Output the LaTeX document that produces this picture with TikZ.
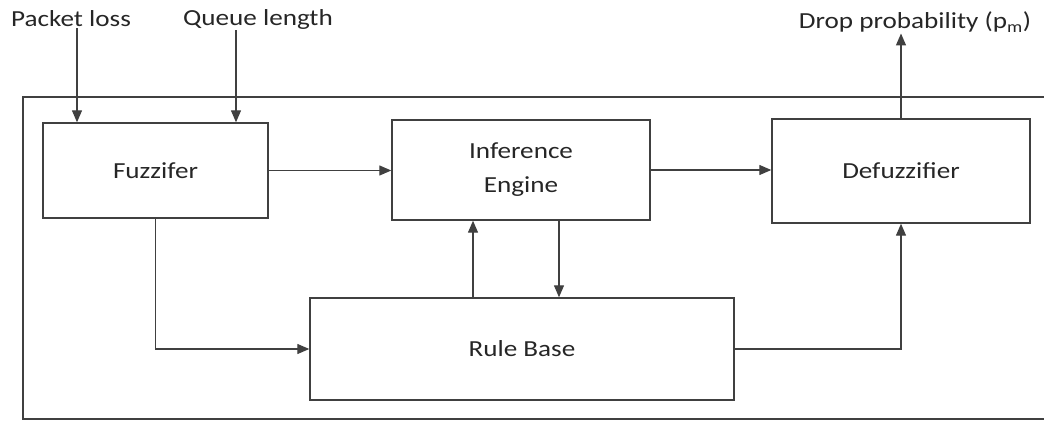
\documentclass[tikz,border=0pt]{standalone}
\usepackage{fontspec}
\setmainfont{Carlito}[FakeStretch=1.18]
\usetikzlibrary{arrows.meta}
\definecolor{lines}{rgb}{0.25, 0.25, 0.25}
\definecolor{words}{rgb}{0.15, 0.15, 0.15}

\begin{document}
\begin{tikzpicture}[x = 1pt, y = -1pt, >={Triangle[length=12pt, width=10pt]},
  block/.style = {draw = lines, line width = 1.4pt, inner sep = 0pt, text = words,
    align = center, font = \fontsize{23}{34}\selectfont},
  label/.style = {inner sep = 1pt, text = words, font = \fontsize{23}{28}\selectfont},
  link/.style = {line width = 1.3pt, draw = lines, ->}]

\useasboundingbox (0, 0) rectangle (1044, 423);
\draw [line width = 1.4pt, lines] (1050, 97) -- (23, 97) -- (23, 419) -- (1050, 419);

\node [block, minimum width = 225pt, minimum height = 95pt] (fuzz) at (155.5, 170.5) {Fuzzifer};
\node [block, minimum width = 258pt, minimum height = 100pt] (infer) at (521, 170) {Inference\\Engine};
\node [block, minimum width = 258pt, minimum height = 104pt] (defuzz) at (901, 171) {Defuzzifier};
\node [block, minimum width = 424pt, minimum height = 102pt] (rules) at (522, 349) {Rule Base};

\node [label] (ploss) at (71, 19) {Packet loss};
\node [label] (qlen) at (258, 19) {Queue length};
\node [label] (drop) at (915, 22) {Drop probability (p\textsubscript{m})};

\draw [link] ([xshift = 6pt] ploss.south) -- ([xshift = 6pt] ploss.south |- fuzz.north);
\draw [link] ([xshift = -22pt] qlen.south) -- ([xshift = -22pt] qlen.south |- fuzz.north);
\draw [link] (fuzz.east) -- (fuzz.east -| infer.west);
\draw [link] (infer.east) -- (infer.east -| defuzz.west);
\draw [link] (defuzz.north) -- (defuzz.north |- drop.south);
\draw [link] (fuzz.south) |- (rules.west);
\draw [link] ([xshift = -49pt] rules.north) -- ([xshift = -49pt] rules.north |- infer.south);
\draw [link] ([xshift = 38pt] infer.south) -- ([xshift = 38pt] infer.south |- rules.north);
\draw [link] (rules.east) -| (defuzz.south);

\end{tikzpicture}
\end{document}
